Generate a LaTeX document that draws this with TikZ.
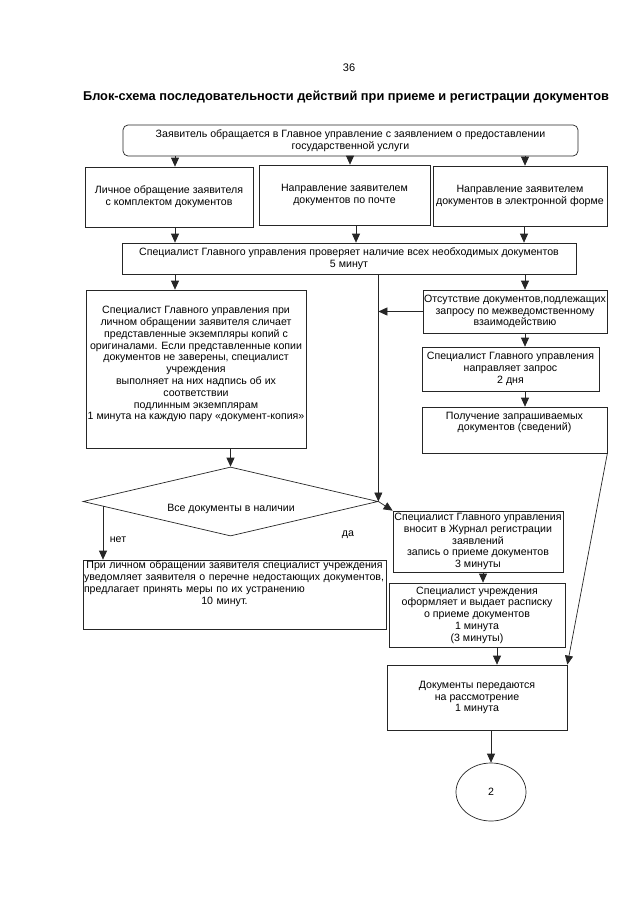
\documentclass[tikz,border=0pt]{standalone}
\usepackage{fontspec}
\setmainfont{Liberation Sans}
\usetikzlibrary{arrows.meta,shapes.geometric}
\newcommand\bfnt{\fontsize{10.6}{11.8}\selectfont}
\tikzset{
  ln/.style={draw=black!85, line width=0.7pt},
  arr/.style={ln, -{Triangle[length=9pt,width=8pt]}},
  box/.style={ln, rectangle, inner sep=0pt, align=center, font=\bfnt},
  txt/.style={inner sep=0pt, align=center, font=\bfnt},
}
\begin{document}
\begin{tikzpicture}[x=1pt,y=-1pt]
\useasboundingbox (0,0) rectangle (640,905);
\fill[white] (0,0) rectangle (640,905);

\node[txt, font=\fontsize{11}{13}\selectfont] (pg) at (349,68) {36};
\node[txt, font=\fontsize{12.8}{14}\selectfont\bfseries] (title) at (346,97)
  {Блок-схема последовательности действий при приеме и регистрации документов};

\node[box, rounded corners=5pt, minimum width=455pt, minimum height=31pt] (top) at (350.5,140.5)
  {Заявитель обращается в Главное управление с заявлением о предоставлении\\государственной услуги};

\node[box, minimum width=168pt, minimum height=60pt] (b1) at (169,197)
  {Личное обращение заявителя\\с комплектом документов};
\node[box, minimum width=171pt, minimum height=60pt] (b2) at (344.5,195)
  {Направление заявителем\\документов по почте};
\node[box, minimum width=174pt, minimum height=60pt] (b3) at (520,196)
  {Направление заявителем\\документов в электронной форме};

\node[box, minimum width=454pt, minimum height=31pt] (b4) at (349,258.5)
  {Специалист Главного управления проверяет наличие всех необходимых документов\\5 минут};

\node[box, minimum width=220pt, minimum height=158pt] (b5) at (196,369)
  {Специалист Главного управления при\\личном обращении заявителя сличает\\представленные экземпляры копий с\\оригиналами. Если представленные копии\\документов не заверены, специалист\\учреждения\\выполняет на них надпись об их\\соответствии\\подлинным экземплярам\\1 минута на каждую пару «документ-копия»\\\mbox{}};

\node[box, minimum width=184pt, minimum height=43pt] (b6) at (515,311.5)
  {Отсутствие документов,подлежащих\\запросу по межведомственному\\взаимодействию};
\node[box, minimum width=177pt, minimum height=44pt] (b7) at (510.5,369)
  {Специалист Главного управления\\направляет запрос\\2 дня};
\node[box, minimum width=185pt, minimum height=46pt] (b8) at (514.5,430) {};
\node[txt] (b8t) at (514.5,422.5) {Получение запрашиваемых\\документов (сведений)};

\node[ln, diamond, minimum width=295pt, minimum height=69pt, inner sep=0pt] (dia) at (230.5,501.5) {};
\node[txt] (diat) at (231,509) {Все документы в наличии};

\node[box, minimum width=170pt, minimum height=61pt] (b9) at (478,541.5)
  {Специалист Главного управления\\вносит в Журнал регистрации\\заявлений\\запись о приеме документов\\3 минуты};

\node[box, minimum width=303pt, minimum height=69pt] (b10) at (234.5,594.5) {};
\node[inner sep=0pt, text width=301pt, font=\bfnt, anchor=north] (b10t) at (234.5,561)
  {\centering При личном обращении заявителя специалист учреждения\par
   \raggedright уведомляет заявителя о перечне недостающих документов,\par
   предлагает принять меры по их устранению\par
   \centering\hspace*{-20pt}10 минут.\par};

\node[box, minimum width=176pt, minimum height=64pt] (b11) at (477,615)
  {Специалист учреждения\\оформляет и выдает расписку\\о приеме документов\\1 минута\\(3 минуты)};
\node[box, minimum width=180pt, minimum height=65pt] (b12) at (477,697.5)
  {Документы передаются\\на рассмотрение\\1 минута};
\node[ln, ellipse, minimum width=70pt, minimum height=58pt, inner sep=0pt, font=\bfnt] (circ) at (491,792) {2};

\node[txt] (net) at (118,540) {нет};
\node[txt] (da) at (348,535) {да};

% connectors
\draw[arr] (175,0 |- top.south) -- (175,0 |- b1.north);
\draw[arr] (350,0 |- top.south) -- (350,0 |- b2.north);
\draw[arr] (525,0 |- top.south) -- (525,0 |- b3.north);
\draw[arr] (175,0 |- b1.south) -- (175,0 |- b4.north);
\draw[arr] (356,0 |- b2.south) -- (356,0 |- b4.north);
\draw[arr] (524,0 |- b3.south) -- (524,0 |- b4.north);
\draw[arr] (175,0 |- b4.south) -- (175,0 |- b5.north);
\draw[arr] (525,0 |- b4.south) -- (525,0 |- b6.north);
\draw[arr] (dia.east |- b4.south) -- (dia.east);
\draw[arr] (b6.west) -- (dia.east |- b6.west);
\draw[arr] (525,0 |- b6.south) -- (525,0 |- b7.north);
\draw[arr] (525,0 |- b7.south) -- (525,0 |- b8.north);
\draw[arr] (b8.south east) -- (b12.north east);
\draw[arr] (dia.north |- b5.south) -- (dia.north);
\coordinate (nstart) at (103,505.5);
\draw[arr] (nstart) -- (nstart |- b10.north);
\draw[arr] (dia.east) -- (b9.north west);
\draw[arr] (483,0 |- b9.south) -- (483,0 |- b11.north);
\draw[arr] (497,0 |- b11.south) -- (497,0 |- b12.north);
\draw[arr] (circ.north |- b12.south) -- (circ.north);
\end{tikzpicture}
\end{document}
